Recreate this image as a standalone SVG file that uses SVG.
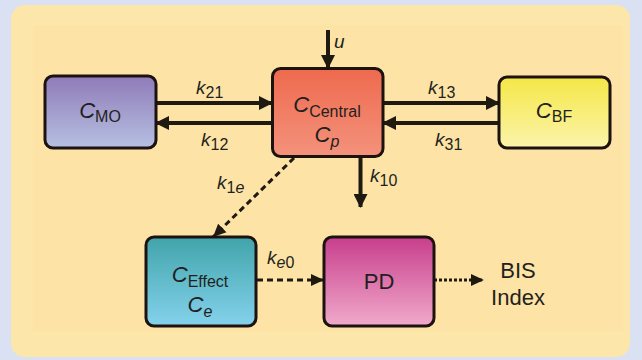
<svg xmlns="http://www.w3.org/2000/svg" width="642" height="360" viewBox="0 0 642 360">
<defs>
<linearGradient id="gMO" x1="0" y1="0" x2="0" y2="1"><stop offset="0" stop-color="#8f7bb8"/><stop offset="1" stop-color="#b6c0e2"/></linearGradient>
<linearGradient id="gC" x1="0" y1="0" x2="0" y2="1"><stop offset="0" stop-color="#ee6a4e"/><stop offset="1" stop-color="#f4927c"/></linearGradient>
<linearGradient id="gBF" x1="0" y1="0" x2="0" y2="1"><stop offset="0" stop-color="#f5e746"/><stop offset="1" stop-color="#fbf4ac"/></linearGradient>
<linearGradient id="gE" x1="0" y1="0" x2="0" y2="1"><stop offset="0" stop-color="#41a4aa"/><stop offset="1" stop-color="#84d2ec"/></linearGradient>
<linearGradient id="gPD" x1="0" y1="0" x2="0" y2="1"><stop offset="0" stop-color="#c73e8c"/><stop offset="1" stop-color="#f1aacb"/></linearGradient>
<marker id="ah" markerUnits="userSpaceOnUse" markerWidth="14" markerHeight="14" refX="13" refY="7" orient="auto"><path d="M0,0 L14,7 L0,14 z" fill="#1e1a12"/></marker>
<marker id="ahs" markerUnits="userSpaceOnUse" markerWidth="14" markerHeight="14" refX="13" refY="7" orient="auto"><path d="M0,1 L13,7 L0,13 z" fill="#1e1a12"/></marker>
</defs>
<style>
.box{stroke:#1c1210;stroke-width:3}
.t{font-family:"Liberation Sans",Arial,sans-serif;fill:#231f20}
.big{font-size:22px}
.sub{font-size:16px}
.k{font-size:19px;font-style:italic}
.solid{stroke:#1e1a12;stroke-width:4;fill:none}
.dash{stroke:#1e1a12;stroke-width:3;fill:none;stroke-dasharray:6,4}
.dot{stroke:#1e1a12;stroke-width:3;fill:none;stroke-dasharray:3,2}
</style>
<rect x="0" y="0" width="642" height="360" fill="#dae1f2"/>
<rect x="11" y="5" width="619" height="352" rx="14" fill="#fde6a9"/>
<rect x="33" y="25" width="590" height="307" fill="#fde4a6"/>

<g id="connectors">
<line class="solid" x1="328" y1="30" x2="328" y2="68" marker-end="url(#ah)"/>
<line class="solid" x1="156" y1="103" x2="272" y2="103" marker-end="url(#ah)"/>
<line class="solid" x1="272" y1="123" x2="156" y2="123" marker-end="url(#ah)"/>
<line class="solid" x1="383" y1="103" x2="499" y2="103" marker-end="url(#ah)"/>
<line class="solid" x1="499" y1="123" x2="383" y2="123" marker-end="url(#ah)"/>
<line class="solid" x1="360.5" y1="157" x2="360.5" y2="207" marker-end="url(#ah)"/>
<line class="dash" x1="294" y1="158" x2="213" y2="237" marker-end="url(#ahs)"/>
<line class="dash" x1="257" y1="280" x2="324" y2="280" marker-end="url(#ahs)"/>
<line class="dot" x1="434" y1="280" x2="484" y2="280" marker-end="url(#ahs)"/>
<text class="t k" x="334" y="48">u</text>
<text class="t k" x="196" y="94">k<tspan class="sub" font-style="normal" dy="4">21</tspan></text>
<text class="t k" x="201" y="146">k<tspan class="sub" font-style="normal" dy="4">12</tspan></text>
<text class="t k" x="428" y="94">k<tspan class="sub" font-style="normal" dy="4">13</tspan></text>
<text class="t k" x="435" y="146">k<tspan class="sub" font-style="normal" dy="4">31</tspan></text>
<text class="t k" x="370" y="182">k<tspan class="sub" font-style="normal" dy="4">10</tspan></text>
<text class="t k" x="217" y="189">k<tspan class="sub" font-style="normal" dy="4">1<tspan font-style="italic">e</tspan></tspan></text>
<text class="t k" x="267" y="264">k<tspan class="sub" dy="4">e<tspan font-style="normal">0</tspan></tspan></text>
<text class="t big" x="518" y="278" text-anchor="middle">BIS</text>
<text class="t big" x="518" y="305" text-anchor="middle">Index</text>
</g>

<g id="CMO">
<rect class="box" x="45" y="76" width="111" height="72" rx="8" fill="url(#gMO)"/>
<text class="t big" x="100" y="118" text-anchor="middle"><tspan font-style="italic">C</tspan><tspan class="sub" dy="4">MO</tspan></text>
</g>
<g id="CCentral">
<rect class="box" x="272.5" y="68.5" width="110.5" height="88" rx="8" fill="url(#gC)"/>
<text class="t big" x="327" y="112" text-anchor="middle"><tspan font-style="italic">C</tspan><tspan class="sub" dy="5">Central</tspan></text>
<text class="t big" x="327" y="142" text-anchor="middle"><tspan font-style="italic">C</tspan><tspan class="sub" font-style="italic" dy="5">p</tspan></text>
</g>
<g id="CBF">
<rect class="box" x="499" y="77" width="111" height="71" rx="8" fill="url(#gBF)"/>
<text class="t big" x="554" y="118" text-anchor="middle"><tspan font-style="italic">C</tspan><tspan class="sub" dy="4">BF</tspan></text>
</g>
<g id="CEffect">
<rect class="box" x="146" y="237" width="110" height="89" rx="8" fill="url(#gE)"/>
<text class="t big" x="200" y="282" text-anchor="middle"><tspan font-style="italic">C</tspan><tspan class="sub" dy="5">Effect</tspan></text>
<text class="t big" x="200" y="312" text-anchor="middle"><tspan font-style="italic">C</tspan><tspan class="sub" font-style="italic" dy="5">e</tspan></text>
</g>
<g id="PD">
<rect class="box" x="324" y="237" width="110" height="89" rx="8" fill="url(#gPD)"/>
<text class="t big" x="379" y="289" text-anchor="middle">PD</text>
</g>
</svg>
